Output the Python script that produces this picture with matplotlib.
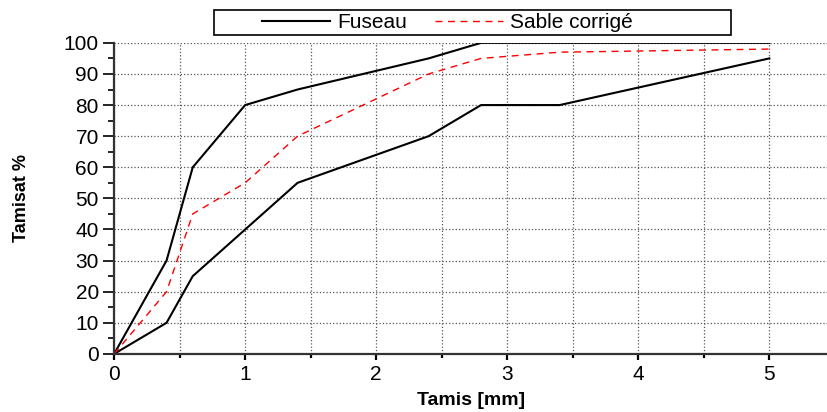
import matplotlib.pyplot as plt
from matplotlib.patches import Rectangle
from matplotlib.ticker import MultipleLocator

# sieve sizes [mm] and passing percentages
tamis_sup = [0, 0.4, 0.6, 1.0, 1.4, 2.4, 2.8, 5.0]
fuseau_sup = [0, 30, 60, 80, 85, 95, 100, 100]

tamis_inf = [0, 0.4, 0.6, 1.0, 1.4, 2.4, 2.8, 3.4, 5.0]
fuseau_inf = [0, 10, 25, 40, 55, 70, 80, 80, 95]

tamis_sable = [0, 0.4, 0.6, 1.0, 1.4, 2.4, 2.8, 3.4, 5.0]
sable_corrige = [0, 20, 45, 55, 70, 90, 95, 97, 98]

x_ticks = [0, 1, 2, 3, 4, 5]
y_ticks = [0, 10, 20, 30, 40, 50, 60, 70, 80, 90, 100]


def main():
    plt.rcParams["font.family"] = ["Liberation Sans", "DejaVu Sans"]

    fig = plt.figure(figsize=(8.27, 4.12), dpi=100)
    ax = fig.add_axes([0.138, 0.141, 0.862, 0.755])

    ax.plot(tamis_sup, fuseau_sup, color="black", lw=1.5, label="Fuseau")
    ax.plot(tamis_inf, fuseau_inf, color="black", lw=1.5)
    ax.plot(tamis_sable, sable_corrige, color="red", lw=1.0,
            linestyle=(0, (5, 4)), label="Sable corrigé")

    ax.set_xlim(0, 5.44)
    ax.set_ylim(0, 100)
    ax.set_xticks(x_ticks)
    ax.set_yticks(y_ticks)
    ax.xaxis.set_minor_locator(MultipleLocator(0.5))
    ax.yaxis.set_minor_locator(MultipleLocator(5))

    for side in ["top", "right"]:
        ax.spines[side].set_visible(False)
    for side in ["left", "bottom"]:
        ax.spines[side].set_linewidth(1.6)
        ax.spines[side].set_color("#333333")

    ax.grid(which="major", axis="y", linestyle=":", color="#555555", lw=0.9)
    ax.grid(which="both", axis="x", linestyle=":", color="#555555", lw=0.9)

    ax.tick_params(axis="y", which="major", length=8, width=1.2, labelsize=15, pad=3)
    ax.tick_params(axis="y", which="minor", length=4, width=1.2)
    ax.tick_params(axis="x", which="major", length=4, width=1.6, labelsize=15, pad=4)
    ax.tick_params(axis="x", which="minor", length=3, width=1.6)

    ax.set_xlabel("Tamis [mm]", fontsize=14, fontweight="bold", labelpad=6)
    ax.set_ylabel("Tamisat %", fontsize=13, fontweight="bold", labelpad=24)

    # legend box drawn separately so it can be wider than its content
    fig.patches.append(Rectangle((214 / 827, 1 - 35 / 412), 517 / 827, 25 / 412,
                                 transform=fig.transFigure, facecolor="white",
                                 edgecolor="black", lw=1.2, zorder=1))
    fig.legend(loc="center left", bbox_to_anchor=(262 / 827, 1 - 22.5 / 412),
               ncol=2, fontsize=15, frameon=False,
               handlelength=3.27, columnspacing=1.35, borderpad=0,
               borderaxespad=0, handletextpad=0.34)

    fig.savefig("out.png", dpi=100)


if __name__ == "__main__":
    main()
